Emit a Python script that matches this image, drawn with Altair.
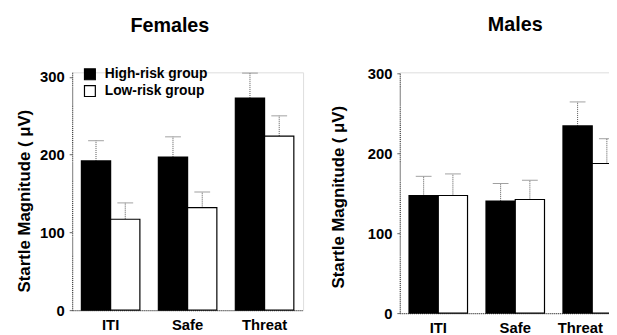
import altair as alt
import pandas as pd

conditions = ["ITI", "Safe", "Threat"]
groups = ["High-risk group", "Low-risk group"]

female_high = [192, 197, 273]
female_high_upper = [218, 223, 305]
female_low = [117, 132, 224]
female_low_upper = [138, 152, 250]

male_high = [147, 140, 234]
male_high_upper = [171, 162, 264]
male_low = [147, 142, 187]
male_low_upper = [174, 166, 218]

FONT = "Liberation Sans"


def make_df(high, high_up, low, low_up):
    rows = []
    for i, c in enumerate(conditions):
        rows.append({"condition": c, "group": groups[0], "value": high[i], "upper": high_up[i], "fc": "black"})
        rows.append({"condition": c, "group": groups[1], "value": low[i], "upper": low_up[i], "fc": "white"})
    return pd.DataFrame(rows)


def panel(df, title, ymax, height, legend, dx, title_pad, title_y, last_shift):
    lab_off = {"condition": {"test": "datum.value == 'Threat'", "value": last_shift}, "value": 0}
    x = alt.X("condition:N", sort=conditions,
              scale=alt.Scale(paddingInner=0.24, paddingOuter=0.12),
              axis=alt.Axis(title=None, labelAngle=0, ticks=False, labelPadding=8,
                            labelOffset=lab_off,
                            labelFont=FONT, labelFontSize=15, labelFontWeight="bold",
                            labelColor="black", domainColor="#444", domainDash=[1, 1],
                            domainWidth=1.2))
    xo = alt.XOffset("group:N", sort=groups, scale=alt.Scale(paddingInner=0, paddingOuter=0))
    yscale = alt.Scale(domain=[0, ymax], nice=False, zero=True)
    yaxis = alt.Axis(title="Startle Magnitude ( μV)", values=[0, 100, 200, 300], grid=False,
                     tickSize=3, tickColor="#666", labelPadding=5,
                     labelFont=FONT, labelFontSize=15, labelFontWeight="bold", labelColor="black",
                     titleFont=FONT, titleFontSize=17, titleFontWeight="bold", titleColor="black",
                     titlePadding=title_pad, titleY=title_y,
                     domainColor="#444", domainDash=[1, 1], domainWidth=1.2)
    base = alt.Chart(df).encode(x=x, xOffset=xo)
    if legend:
        fill = alt.Fill("group:N", scale=alt.Scale(domain=groups, range=["black", "white"]),
                        legend=alt.Legend(title=None, orient="none", legendX=11, legendY=-5,
                                          symbolType="square", symbolSize=121,
                                          symbolStrokeColor="black", symbolStrokeWidth=1.2,
                                          labelFont=FONT, labelFontSize=14, labelFontWeight="bold",
                                          labelColor="black", labelOffset=8, rowPadding=1))
    else:
        fill = alt.Fill("fc:N", scale=None)
    bars = base.mark_bar(stroke="black", strokeWidth=1.2).encode(
        y=alt.Y("value:Q", scale=yscale, axis=yaxis), fill=fill)
    rules = base.mark_rule(color="#555", strokeDash=[1, 1], strokeWidth=1).encode(
        y=alt.Y("value:Q", scale=yscale), y2="upper:Q")
    caps = base.mark_tick(color="#777", size=16, thickness=1).encode(
        y=alt.Y("upper:Q", scale=yscale))
    return alt.layer(rules, caps, bars).properties(
        width=234, height=height,
        title=alt.TitleParams(title, font=FONT, fontSize=20, fontWeight="bold", color="black",
                              anchor="middle", dx=dx, offset=32))


fem = panel(make_df(female_high, female_high_upper, female_low, female_low_upper),
            "Females", 306, 241, True, -18, 6, 130, 0)
mal = panel(make_df(male_high, male_high_upper, male_low, male_low_upper),
            "Males", 301, 244, False, 0, 20, 126, -12)

chart = alt.hconcat(fem, mal, spacing=25).resolve_scale(
    x="independent", y="independent", fill="independent", xOffset="independent"
).properties(
    autosize=alt.AutoSizeParams(type="none"),
    padding={"left": 65, "top": 63, "right": 544, "bottom": 264},
).configure_view(stroke=None).configure(background="white")

chart.save("out.html", embed_options={"renderer": "svg", "actions": False})
